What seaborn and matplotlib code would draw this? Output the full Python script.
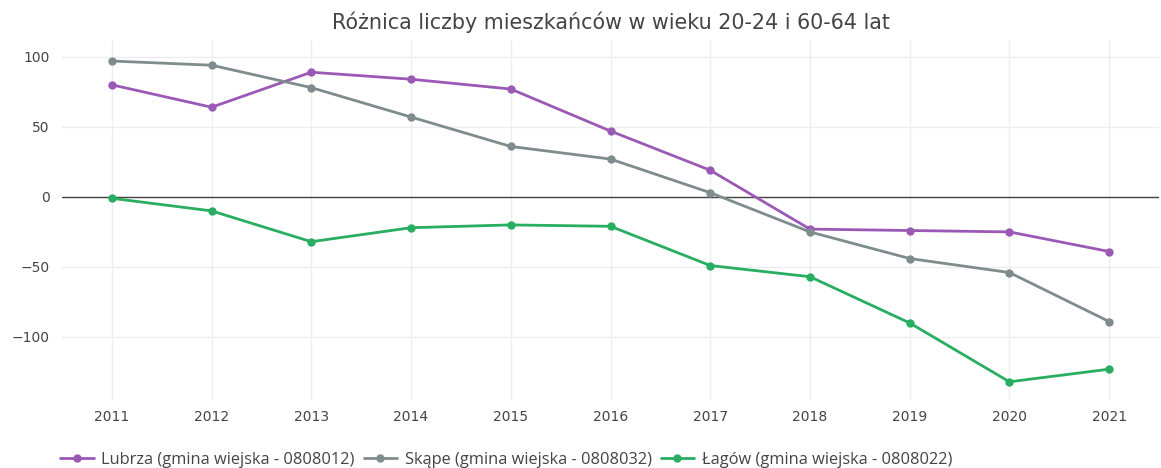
import numpy as np
import pandas as pd
import matplotlib
matplotlib.use("Agg")
import matplotlib.pyplot as plt
import seaborn as sns

years = [2011, 2012, 2013, 2014, 2015, 2016, 2017, 2018, 2019, 2020, 2021]
lubrza = [80, 64, 89, 84, 77, 47, 19, -23, -24, -25, -39]
skape = [97, 94, 78, 57, 36, 27, 3, -25, -44, -54, -89]
lagow = [-1, -10, -32, -22, -20, -21, -49, -57, -90, -132, -123]
series_names = ["Lubrza (gmina wiejska - 0808012)",
                "Skąpe (gmina wiejska - 0808032)",
                "Łagów (gmina wiejska - 0808022)"]
colors = ["#9b59b6", "#7f8c8d", "#27ae60"]
title = "Różnica liczby mieszkańców w wieku 20-24 i 60-64 lat"

df = pd.concat([
    pd.DataFrame({"rok": years, "wartosc": v, "seria": n})
    for v, n in zip([lubrza, skape, lagow], series_names)
])

sns.set_theme(style="white")
plt.rcParams['font.family'] = ['DejaVu Sans']

fig = plt.figure(figsize=(11.61, 4.68), dpi=100)
ax = fig.add_axes([62/1161, 1-400/468, 1097/1161, 360/468])

sns.lineplot(data=df, x="rok", y="wartosc", hue="seria", hue_order=series_names,
             palette=colors, marker="o", markersize=6, markeredgewidth=0,
             linewidth=2, ax=ax, legend=True)

ax.set_xlim(2010.5, 2021.5)
ax.set_ylim(-145, 112)
ax.set_xticks(years)
ax.set_yticks([-100, -50, 0, 50, 100])
ax.set_yticklabels(["−100", "−50", "0", "50", "100"])
ax.grid(True, color="#eeeeee", linewidth=1)
ax.axhline(0, color="#444444", linewidth=1, zorder=1)
for s in ax.spines.values():
    s.set_visible(False)
ax.tick_params(axis="both", length=0, labelsize=10, colors="#444444")
ax.tick_params(axis="y", pad=9)
ax.tick_params(axis="x", pad=7)
ax.set_xlabel("")
ax.set_ylabel("")

fig.text(611/1161, 1-22/468, title, ha="center", va="center", fontsize=14.9, color="#444444")

handles, labels = ax.get_legend_handles_labels()
ax.legend_.remove()
fig.legend(handles, labels, loc="center left", bbox_to_anchor=(52/1161, 1-460/468),
           ncol=3, frameon=False, prop={"family": ["Liberation Sans Narrow", "Open Sans"], "size": 11.8},
           labelcolor="#444444",
           handlelength=2.05, handletextpad=0.45, columnspacing=0.55, borderpad=0)

fig.savefig("out.png", dpi=100)
